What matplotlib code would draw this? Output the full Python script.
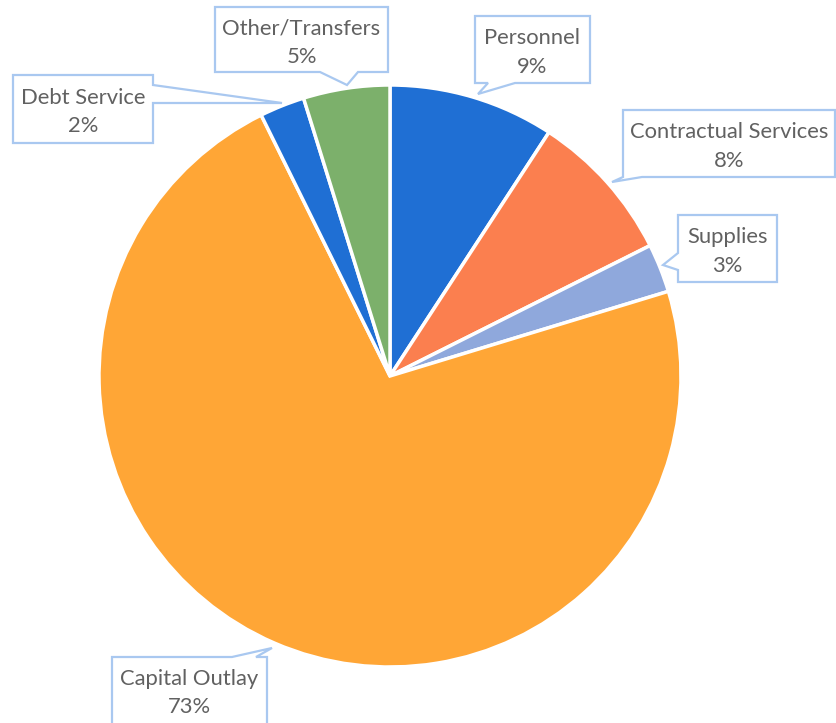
import matplotlib
matplotlib.use("Agg")
from matplotlib import pyplot as plt
from matplotlib.patches import Polygon

plt.rcParams['font.family'] = ['Lato', 'DejaVu Sans']

W, H = 836, 723

# budget shares, clockwise from the top
labels = ['Personnel', 'Contractual Services', 'Supplies', 'Capital Outlay', 'Debt Service', 'Other/Transfers']
shares = [9.2, 8.4, 2.7, 72.4, 2.5, 4.8]
colors = ['#1f6fd4', '#fb7f4f', '#8fa8dc', '#ffa636', '#1f6fd4', '#7cb06b']
pct_text = ['9%', '8%', '3%', '73%', '2%', '5%']

# callout boxes in pixel coords: (left, top, right, bottom), side, pointer base, tip
callouts = {
    'Other/Transfers': ((215, 7, 388, 72), 'bottom', (320, 358), (347, 85)),
    'Debt Service': ((13, 75, 153, 143), 'right', (85, 103), (282, 103)),
    'Personnel': ((475, 16, 590, 83), 'bottom', (488, 515), (478, 94)),
    'Contractual Services': ((623, 110, 835, 177), 'bottom', (623, 642), (612, 182)),
    'Supplies': ((678, 215, 777, 282), 'left', (253, 270), (663, 265)),
    'Capital Outlay': ((112, 657, 267, 730), 'top', (232, 256), (272, 648)),
}


def callout_poly(box, side, base, tip):
    l, t, r, b = box
    if side == 'bottom':
        pts = [(l, t), (r, t), (r, b), (base[1], b), tip, (base[0], b), (l, b)]
    elif side == 'top':
        pts = [(l, t), (base[0], t), tip, (base[1], t), (r, t), (r, b), (l, b)]
    elif side == 'right':
        pts = [(l, t), (r, t), (r, base[0]), tip, (r, base[1]), (r, b), (l, b)]
    else:
        pts = [(l, t), (r, t), (r, b), (l, b), (l, base[1]), tip, (l, base[0])]
    return [(x, H - y) for x, y in pts]


fig = plt.figure(figsize=(W / 100, H / 100), dpi=100)
ax = fig.add_axes([0, 0, 1, 1])
ax.set_xlim(0, W)
ax.set_ylim(0, H)
ax.set_aspect('equal')
ax.axis('off')

ax.pie(shares, colors=colors, startangle=90, counterclock=False,
       center=(390, H - 376), radius=291,
       wedgeprops=dict(edgecolor='white', linewidth=2.5))
ax.set_xlim(0, W)
ax.set_ylim(0, H)

for name, pct in zip(labels, pct_text):
    box, side, base, tip = callouts[name]
    poly = Polygon(callout_poly(box, side, base, tip), closed=True,
                   facecolor='white', edgecolor='#a9c8f0', linewidth=1.6, zorder=3)
    ax.add_patch(poly)
    l, t, r, b = box
    b = min(b, H)
    cx = (l + r) / 2
    cy = H - (t + b) / 2 - 3
    ax.text(cx, cy, name + '\n' + pct, ha='center', va='center',
            fontsize=15.8, color='#616161', linespacing=1.55, zorder=4)

fig.savefig('out.png', dpi=100)
